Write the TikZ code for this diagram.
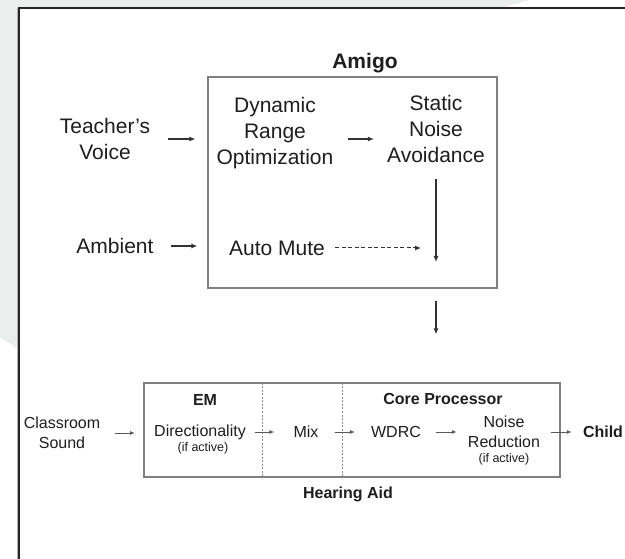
\documentclass[tikz,border=0pt]{standalone}
\usepackage{fontspec}
\setmainfont{Liberation Sans}
\usetikzlibrary{arrows.meta,positioning,calc}
\definecolor{bggray}{RGB}{234,238,237}
\definecolor{ink}{RGB}{30,30,30}

\begin{document}
\begin{tikzpicture}[x=1pt,y=-1pt,
    big/.style={font=\fontsize{21}{26}\selectfont, align=center, inner sep=0pt, text=ink},
    bigb/.style={big, font=\fontsize{21}{26}\selectfont\bfseries},
    small/.style={font=\fontsize{16}{20}\selectfont, align=center, inner sep=0pt, text=ink},
    smallb/.style={small, font=\fontsize{16}{20}\selectfont\bfseries},
    note/.style={font=\fontsize{12.5}{15}\selectfont, inner sep=0pt, text=ink},
    unit/.style={draw=black!50, line width=1.3pt, inner sep=0pt},
    arr/.style={-{Latex[length=6pt,width=5pt]}, line width=1.1pt, draw=black!80},
    sarr/.style={-{Latex[length=5pt,width=4pt]}, line width=0.9pt, draw=black!65}]
    \useasboundingbox (0,0) rectangle (625,559);

    % page background
    \fill[white] (0,0) rectangle (625,559);
    \fill[bggray] (0,0) -- (530,0) -- (500,8) -- (19,8) -- (19,350) -- (0,337) -- cycle;
    \draw[black!30, line width=1pt] (17.5,8) -- (17.5,559);
    \draw[black!85, line width=1.5pt] (625,8) -- (19,8) -- (19,559);

    % Amigo
    \node[unit, minimum width=289pt, minimum height=211pt] (amigo) at (352.5,182.5) {};
    \node[bigb] (amigolbl) at (365,63) {Amigo};
    \node[big] (tv) at (105,139) {Teacher's\\Voice};
    \node[big] (dro) at (275,133) {Dynamic\\Range\\Optimization};
    \node[big] (sna) at (436,129) {Static\\Noise\\Avoidance};
    \node[big] (amb) at (115,246) {Ambient};
    \node[big] (am) at (277,248) {Auto Mute};
    \coordinate (join) at (436,262);

    \draw[arr, shorten <=18pt, shorten >=12pt] (tv.east) -- (tv.east -| amigo.west);
    \draw[arr, shorten <=14pt, shorten >=13pt] (dro.east |- tv.east) -- (sna.west |- tv.east);
    \draw[arr, shorten <=17pt, shorten >=10pt] (amb.east) -- (amb.east -| amigo.west);
    \draw[arr, line width=1pt, dash pattern=on 4pt off 2.5pt, shorten <=10pt, shorten >=15pt] (am.east) -- (am.east -| join);
    \draw[arr, shorten <=16pt] (sna.south) -- (join);

    % Hearing aid
    \node[unit, minimum width=416pt, minimum height=94pt] (ha) at (352,430) {};
    \draw[black!45, dash pattern=on 2pt off 1.5pt, line width=0.8pt] (262,383) -- (262,477);
    \draw[black!45, dash pattern=on 2pt off 1.5pt, line width=0.8pt] (342,383) -- (342,477);
    \node[smallb] (em) at (205,400) {EM};
    \node[smallb] (core) at (443,399) {Core Processor};
    \node[small] (cls) at (62,433) {Classroom\\Sound};
    \node[small] (dir) at (200,432) {Directionality};
    \node[note] (dirnote) at (203,448) {(if active)};
    \node[small] (mix) at (306,432) {Mix};
    \node[small] (wdrc) at (396,432) {WDRC};
    \node[small] (nr) at (504,432) {Noise\\Reduction};
    \node[note] (nrnote) at (504,459) {(if active)};
    \node[smallb] (child) at (603,432) {Child};
    \node[smallb] (halbl) at (348,494) {Hearing Aid};

    \draw[arr, shorten <=12pt, shorten >=48pt] (join |- amigo.south) -- (join |- ha.north);
    \draw[sarr, shorten <=15pt, shorten >=19pt] (cls.east) -- (cls.east -| dir.west);
    \draw[sarr, shorten <=9pt, shorten >=19pt] (dir) -- (mix);
    \draw[sarr, shorten <=16pt, shorten >=16pt] (mix) -- (wdrc);
    \draw[sarr, shorten <=15pt, shorten >=11pt] (wdrc) -- (nr);
    \draw[sarr, shorten <=11pt, shorten >=11pt] (nr) -- (child);
\end{tikzpicture}
\end{document}
